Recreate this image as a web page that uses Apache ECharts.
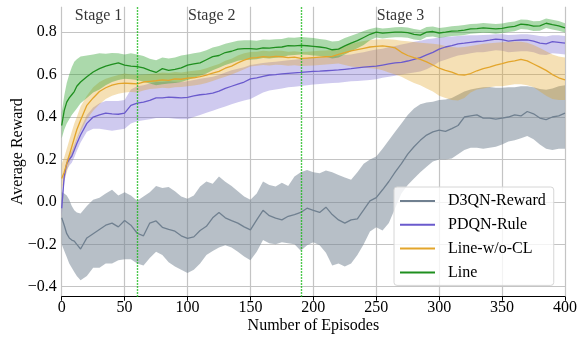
<!DOCTYPE html>
<html>
<head>
<meta charset="utf-8">
<script src="https://cdn.jsdelivr.net/npm/echarts@6/dist/echarts.min.js"></script>
<style>
html, body { margin: 0; padding: 0; background: #fff; }
#chart { width: 577px; height: 337px; }
</style>
</head>
<body>
<div id="chart"></div>
<script>
// episodes sampled from the plot
var episodes = [0, 2, 4, 6, 8, 10, 12, 15,
    20, 25, 30, 35, 40, 45, 50, 55, 60, 65, 70, 75, 80, 85, 90, 95, 100,
    105, 110, 115, 120, 125, 130, 135, 140, 145, 150, 155, 160, 165, 170, 175, 180, 185, 190, 195, 200,
    205, 210, 215, 220, 225, 230, 235, 240, 245, 250, 255, 260, 265, 270, 275, 280, 285, 290, 295, 300,
    305, 310, 315, 320, 325, 330, 335, 340, 345, 350, 355, 360, 365, 370, 375, 380, 385, 390, 395, 400];

var seriesNames = ['D3QN-Reward', 'PDQN-Rule', 'Line-w/o-CL', 'Line'];

// D3QN-Reward
var d3qnMean = [-0.075, -0.11, -0.15, -0.17, -0.18, -0.185, -0.2, -0.222,
    -0.17, -0.15, -0.13, -0.11, -0.1, -0.118, -0.088, -0.11, -0.148, -0.16, -0.1, -0.09, -0.12, -0.13, -0.138, -0.16, -0.172,
    -0.165, -0.135, -0.115, -0.075, -0.05, -0.075, -0.088, -0.1, -0.118, -0.132, -0.085, -0.04, -0.065, -0.077, -0.085, -0.068, -0.06, -0.05, -0.03, -0.04,
    -0.05, -0.025, -0.06, -0.085, -0.1, -0.085, -0.08, -0.038, 0.005, 0.02, 0.057, 0.096, 0.14, 0.18, 0.225, 0.26, 0.29, 0.315, 0.33, 0.338,
    0.332, 0.345, 0.36, 0.40, 0.405, 0.41, 0.395, 0.395, 0.39, 0.395, 0.40, 0.41, 0.405, 0.426, 0.415, 0.395, 0.388, 0.40, 0.405, 0.418];
var d3qnHigh = [0.045, 0.04, 0.03, 0.01, -0.02, -0.04, -0.05, -0.055,
    -0.02, 0.01, 0.02, 0.04, 0.057, 0.03, 0.045, 0.03, 0.005, 0.025, 0.045, 0.075, 0.065, 0.07, 0.05, 0.025, 0.015,
    0.03, 0.072, 0.096, 0.085, 0.12, 0.095, 0.075, 0.05, 0.025, 0.01, 0.04, 0.096, 0.08, 0.072, 0.09, 0.075, 0.12, 0.14, 0.15, 0.14,
    0.135, 0.148, 0.14, 0.127, 0.115, 0.104, 0.14, 0.18, 0.2, 0.214, 0.25, 0.29, 0.33, 0.37, 0.41, 0.44, 0.46, 0.468, 0.472, 0.48,
    0.482, 0.49, 0.505, 0.52, 0.53, 0.536, 0.54, 0.542, 0.538, 0.538, 0.54, 0.54, 0.545, 0.545, 0.54, 0.532, 0.528, 0.535, 0.545, 0.55];
var d3qnLow = [-0.2, -0.23, -0.26, -0.29, -0.31, -0.33, -0.35, -0.37,
    -0.35, -0.31, -0.31, -0.29, -0.29, -0.275, -0.27, -0.27, -0.29, -0.3, -0.265, -0.235, -0.25, -0.285, -0.305, -0.32, -0.335,
    -0.32, -0.29, -0.25, -0.232, -0.215, -0.205, -0.215, -0.235, -0.258, -0.275, -0.235, -0.18, -0.195, -0.2, -0.19, -0.195, -0.2, -0.23, -0.205, -0.19,
    -0.205, -0.24, -0.3, -0.29, -0.305, -0.29, -0.25, -0.2, -0.14, -0.12, -0.135, -0.1, -0.03, 0.04, 0.08, 0.11, 0.14, 0.165, 0.19, 0.2,
    0.2, 0.205, 0.225, 0.245, 0.255, 0.255, 0.25, 0.255, 0.26, 0.27, 0.285, 0.29, 0.3, 0.31, 0.295, 0.27, 0.25, 0.245, 0.25, 0.25];

// PDQN-Rule
var pdqnMean = [-0.03, 0.12, 0.18, 0.20, 0.215, 0.245, 0.275, 0.315,
    0.37, 0.40, 0.41, 0.418, 0.415, 0.413, 0.418, 0.455, 0.465, 0.47, 0.478, 0.49, 0.49, 0.494, 0.492, 0.49, 0.493,
    0.50, 0.505, 0.508, 0.513, 0.522, 0.535, 0.545, 0.555, 0.565, 0.58, 0.585, 0.592, 0.598, 0.60, 0.603, 0.606, 0.608, 0.61, 0.613, 0.615,
    0.616, 0.618, 0.62, 0.622, 0.625, 0.628, 0.632, 0.635, 0.638, 0.64, 0.645, 0.65, 0.655, 0.658, 0.664, 0.672, 0.68, 0.693, 0.705, 0.72,
    0.73, 0.736, 0.745, 0.748, 0.752, 0.756, 0.758, 0.762, 0.767, 0.765, 0.758, 0.761, 0.763, 0.764, 0.758, 0.748, 0.745, 0.755, 0.752, 0.748];
var pdqnHigh = [0.0, 0.14, 0.20, 0.225, 0.24, 0.27, 0.30, 0.345,
    0.41, 0.445, 0.465, 0.475, 0.475, 0.475, 0.48, 0.53, 0.545, 0.55, 0.558, 0.565, 0.565, 0.568, 0.566, 0.565, 0.568,
    0.575, 0.58, 0.585, 0.59, 0.598, 0.61, 0.62, 0.628, 0.635, 0.645, 0.65, 0.655, 0.658, 0.66, 0.664, 0.668, 0.67, 0.674, 0.678, 0.682,
    0.684, 0.686, 0.686, 0.69, 0.692, 0.695, 0.70, 0.705, 0.712, 0.718, 0.722, 0.73, 0.735, 0.742, 0.748, 0.755, 0.76, 0.766, 0.77, 0.775,
    0.778, 0.78, 0.782, 0.784, 0.785, 0.786, 0.787, 0.788, 0.79, 0.79, 0.787, 0.788, 0.79, 0.79, 0.787, 0.782, 0.78, 0.786, 0.785, 0.782];
var pdqnLow = [-0.07, 0.09, 0.15, 0.17, 0.185, 0.21, 0.24, 0.28,
    0.33, 0.345, 0.345, 0.34, 0.335, 0.34, 0.345, 0.37, 0.38, 0.385, 0.39, 0.395, 0.395, 0.395, 0.392, 0.39, 0.39,
    0.40, 0.41, 0.42, 0.43, 0.44, 0.45, 0.46, 0.47, 0.478, 0.485, 0.50, 0.515, 0.525, 0.53, 0.535, 0.54, 0.543, 0.546, 0.55, 0.553,
    0.556, 0.558, 0.56, 0.562, 0.565, 0.568, 0.57, 0.572, 0.575, 0.578, 0.585, 0.59, 0.595, 0.60, 0.605, 0.61, 0.615, 0.625, 0.64, 0.66,
    0.67, 0.68, 0.69, 0.695, 0.70, 0.705, 0.705, 0.71, 0.715, 0.712, 0.705, 0.708, 0.71, 0.71, 0.705, 0.695, 0.692, 0.70, 0.698, 0.695];

// Line-w/o-CL
var noClMean = [0.11, 0.14, 0.18, 0.22, 0.26, 0.30, 0.34, 0.385,
    0.455, 0.49, 0.52, 0.538, 0.55, 0.557, 0.56, 0.558, 0.556, 0.565, 0.568, 0.571, 0.575, 0.573, 0.58, 0.578, 0.583,
    0.585, 0.59, 0.598, 0.607, 0.615, 0.63, 0.64, 0.655, 0.668, 0.678, 0.68, 0.685, 0.682, 0.686, 0.684, 0.68, 0.682, 0.676, 0.678, 0.68,
    0.682, 0.684, 0.686, 0.695, 0.703, 0.712, 0.718, 0.724, 0.73, 0.733, 0.735, 0.732, 0.726, 0.705, 0.69, 0.68, 0.672, 0.66, 0.645, 0.63,
    0.62, 0.612, 0.60, 0.598, 0.605, 0.618, 0.628, 0.635, 0.645, 0.652, 0.66, 0.665, 0.672, 0.665, 0.65, 0.635, 0.62, 0.60, 0.585, 0.575];
var noClHigh = [0.18, 0.21, 0.25, 0.29, 0.33, 0.37, 0.40, 0.45,
    0.50, 0.54, 0.565, 0.58, 0.59, 0.598, 0.605, 0.60, 0.598, 0.60, 0.603, 0.605, 0.61, 0.607, 0.612, 0.61, 0.615,
    0.618, 0.622, 0.63, 0.64, 0.65, 0.665, 0.675, 0.69, 0.70, 0.706, 0.708, 0.712, 0.71, 0.714, 0.712, 0.708, 0.71, 0.706, 0.708, 0.71,
    0.712, 0.714, 0.716, 0.725, 0.735, 0.745, 0.752, 0.758, 0.763, 0.765, 0.767, 0.766, 0.764, 0.76, 0.757, 0.754, 0.75, 0.748, 0.745, 0.742,
    0.735, 0.73, 0.728, 0.73, 0.735, 0.74, 0.745, 0.748, 0.75, 0.752, 0.755, 0.756, 0.755, 0.75, 0.74, 0.725, 0.71, 0.695, 0.685, 0.68];
var noClLow = [0.06, 0.10, 0.14, 0.18, 0.22, 0.25, 0.29, 0.33,
    0.39, 0.43, 0.46, 0.485, 0.50, 0.51, 0.515, 0.518, 0.515, 0.525, 0.532, 0.535, 0.538, 0.536, 0.54, 0.542, 0.545,
    0.548, 0.553, 0.56, 0.57, 0.58, 0.59, 0.60, 0.612, 0.625, 0.638, 0.642, 0.645, 0.643, 0.646, 0.645, 0.642, 0.644, 0.64, 0.642, 0.643,
    0.645, 0.648, 0.65, 0.652, 0.645, 0.638, 0.635, 0.632, 0.63, 0.628, 0.62, 0.61, 0.60, 0.59, 0.575, 0.56, 0.55, 0.535, 0.52, 0.50,
    0.49, 0.48, 0.478, 0.49, 0.515, 0.53, 0.535, 0.54, 0.545, 0.545, 0.55, 0.555, 0.555, 0.55, 0.54, 0.52, 0.50, 0.485, 0.48, 0.48];

// Line
var lineMean = [0.36, 0.43, 0.47, 0.49, 0.505, 0.52, 0.545, 0.565,
    0.59, 0.612, 0.628, 0.64, 0.648, 0.655, 0.645, 0.64, 0.638, 0.632, 0.62, 0.61, 0.628, 0.62, 0.625, 0.632, 0.645,
    0.65, 0.655, 0.67, 0.685, 0.69, 0.704, 0.71, 0.72, 0.722, 0.722, 0.72, 0.726, 0.725, 0.728, 0.73, 0.736, 0.735, 0.738, 0.736, 0.733,
    0.73, 0.726, 0.717, 0.72, 0.735, 0.748, 0.76, 0.775, 0.79, 0.80, 0.795, 0.798, 0.8, 0.8, 0.798, 0.79, 0.786, 0.8, 0.803, 0.796,
    0.8, 0.805, 0.806, 0.81, 0.815, 0.817, 0.82, 0.818, 0.815, 0.818, 0.824, 0.827, 0.838, 0.835, 0.828, 0.83, 0.842, 0.835, 0.83, 0.82];
var lineHigh = [0.42, 0.50, 0.56, 0.60, 0.635, 0.66, 0.672, 0.685,
    0.69, 0.695, 0.70, 0.698, 0.702, 0.70, 0.695, 0.70, 0.695, 0.688, 0.675, 0.668, 0.68, 0.676, 0.68, 0.69, 0.695,
    0.70, 0.705, 0.715, 0.728, 0.735, 0.745, 0.752, 0.76, 0.762, 0.762, 0.76, 0.765, 0.764, 0.767, 0.768, 0.775, 0.774, 0.777, 0.775, 0.772,
    0.768, 0.764, 0.756, 0.758, 0.772, 0.783, 0.794, 0.805, 0.815, 0.822, 0.817, 0.82, 0.823, 0.824, 0.822, 0.815, 0.81, 0.824, 0.827, 0.82,
    0.823, 0.828, 0.83, 0.834, 0.838, 0.84, 0.843, 0.841, 0.838, 0.841, 0.847, 0.85, 0.86, 0.858, 0.851, 0.853, 0.864, 0.858, 0.853, 0.842];
var lineLow = [0.30, 0.34, 0.37, 0.39, 0.41, 0.425, 0.44, 0.465,
    0.49, 0.515, 0.53, 0.55, 0.565, 0.575, 0.58, 0.578, 0.575, 0.566, 0.558, 0.55, 0.555, 0.558, 0.56, 0.565, 0.575,
    0.585, 0.595, 0.605, 0.62, 0.632, 0.645, 0.655, 0.665, 0.67, 0.67, 0.672, 0.678, 0.676, 0.679, 0.682, 0.69, 0.692, 0.695, 0.694, 0.69,
    0.688, 0.684, 0.676, 0.68, 0.695, 0.71, 0.724, 0.74, 0.762, 0.775, 0.77, 0.774, 0.776, 0.776, 0.774, 0.765, 0.762, 0.777, 0.78, 0.772,
    0.777, 0.782, 0.783, 0.787, 0.792, 0.795, 0.797, 0.796, 0.793, 0.796, 0.801, 0.804, 0.815, 0.812, 0.805, 0.807, 0.82, 0.812, 0.807, 0.798];

var stageNames = ['Stage 1', 'Stage 2', 'Stage 3'];
var stageStart = [10, 100, 250];
var stageSwitch = [60, 190];

var font = "Liberation Serif";
var colors = ['#708090', '#6a5acd', '#e3a52b', '#1f8f1f'];
var bandColors = ['rgba(112,128,144,0.5)', 'rgba(106,90,205,0.32)', 'rgba(226,160,30,0.33)', 'rgba(44,160,44,0.4)'];

function pairs(ys) {
    return episodes.map(function (x, i) { return [x, ys[i]]; });
}

// shaded band: one polygon, upper edge forward then lower edge back
function band(name, lo, hi, color) {
    return {
        name: name + ' band', type: 'custom', silent: true, z: 1,
        data: episodes.map(function (x, i) { return [x, lo[i], hi[i]]; }),
        encode: { x: 0, y: [1, 2] },
        renderItem: function (params, api) {
            if (params.dataIndex !== 0) return null;
            var top = [], bottom = [];
            for (var k = 0; k < episodes.length; k++) {
                top.push(api.coord([episodes[k], hi[k]]));
                bottom.unshift(api.coord([episodes[k], lo[k]]));
            }
            return {
                type: 'polygon',
                shape: { points: top.concat(bottom) },
                style: { fill: color, stroke: null }
            };
        }
    };
}
function meanLine(name, ys, color) {
    return {
        name: name, type: 'line', data: pairs(ys), symbol: 'none', z: 3,
        lineStyle: { color: color, width: 1.3 }, itemStyle: { color: color }
    };
}

var means = [d3qnMean, pdqnMean, noClMean, lineMean];
var lows = [d3qnLow, pdqnLow, noClLow, lineLow];
var highs = [d3qnHigh, pdqnHigh, noClHigh, lineHigh];

var series = [];
for (var i = 0; i < seriesNames.length; i++) {
    series.push(band(seriesNames[i], lows[i], highs[i], bandColors[i]));
}
for (var j = 0; j < seriesNames.length; j++) {
    series.push(meanLine(seriesNames[j], means[j], colors[j]));
}
series[series.length - 1].markLine = {
    silent: true, symbol: 'none', z: 6,
    label: { show: false },
    emphasis: { disabled: true },
    lineStyle: { color: '#14b814', type: [1.5, 1.5], width: 1.4, opacity: 1 },
    data: stageSwitch.map(function (x) { return { xAxis: x }; })
};
series.push({
    type: 'scatter', silent: true, symbolSize: 1, z: 7,
    itemStyle: { color: 'transparent' },
    data: stageStart.map(function (x) { return [x, 0.875]; }),
    label: {
        show: true, position: 'right', distance: 0, color: '#000',
        fontFamily: font, fontSize: 16,
        formatter: function (p) { return stageNames[p.dataIndex]; }
    }
});

var myChart = echarts.init(document.getElementById('chart'));
var option = {
    animation: false,
    backgroundColor: '#fff',
    textStyle: { fontFamily: font },
    grid: { left: 61.7, right: 12, top: 6.7, bottom: 40.3, containLabel: false, outerBoundsMode: 'none' },
    legend: {
        data: seriesNames,
        orient: 'vertical',
        left: 394, top: 187,
        icon: 'rect', itemWidth: 35, itemHeight: 2, itemGap: 7.8,
        padding: [6, 8, 5, 6],
        backgroundColor: 'rgba(255,255,255,0.8)',
        borderColor: '#d6d6d6', borderWidth: 1, borderRadius: 3,
        textStyle: { fontFamily: font, fontSize: 16, color: '#000', padding: [0, 0, 0, 8] }
    },
    xAxis: {
        type: 'value', min: 0, max: 400, interval: 50,
        name: 'Number of Episodes', nameLocation: 'middle', nameGap: 21, nameMoveOverlap: false,
        nameTextStyle: { fontFamily: font, fontSize: 16, color: '#000' },
        axisLine: { onZero: false, lineStyle: { color: '#000', width: 1 } },
        axisTick: { show: true, length: 4, lineStyle: { color: '#000' } },
        axisLabel: { fontFamily: font, fontSize: 16, color: '#000', margin: 3 },
        splitLine: { show: true, lineStyle: { color: '#c4c4c4', width: 1.2 } }
    },
    yAxis: {
        type: 'value', min: -0.447, max: 0.92, splitNumber: 7,
        name: 'Average Reward', nameLocation: 'middle', nameGap: 36, nameMoveOverlap: false,
        nameTextStyle: { fontFamily: font, fontSize: 16, color: '#000' },
        axisLine: { show: false },
        axisTick: { show: false },
        axisLabel: {
            fontFamily: font, fontSize: 16, color: '#000', margin: 5,
            showMinLabel: false, showMaxLabel: false,
            formatter: function (v) { return v < 0 ? '\u2212' + Math.abs(v).toFixed(1) : v.toFixed(1); }
        },
        splitLine: { show: true, showMinLine: false, showMaxLine: false, lineStyle: { color: '#c4c4c4', width: 1.2 } }
    },
    series: series
};
myChart.setOption(option);
</script>
</body>
</html>
